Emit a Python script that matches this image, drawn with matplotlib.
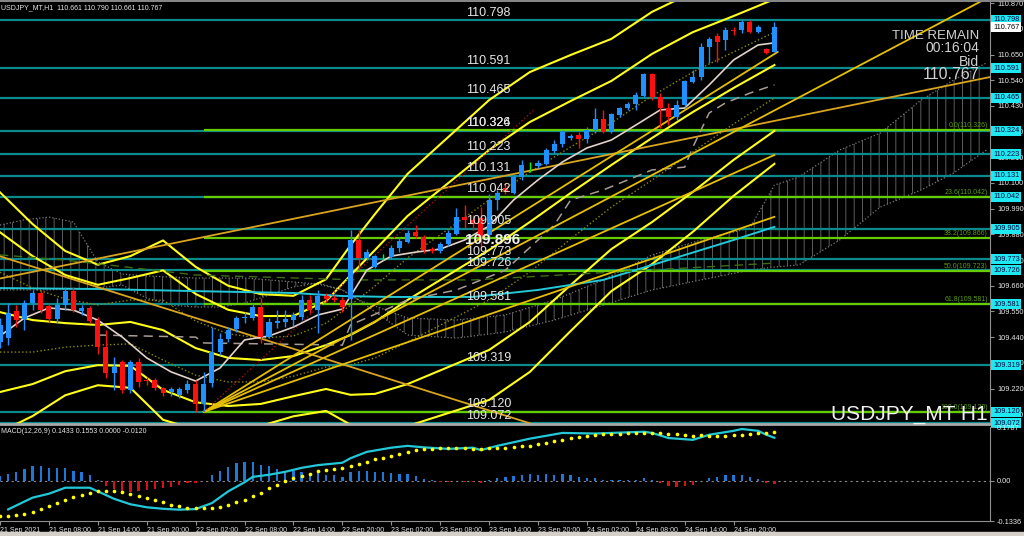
import numpy as np
import matplotlib
matplotlib.use("Agg")
import matplotlib.pyplot as plt
import matplotlib.transforms as mtransforms
from matplotlib.patches import Rectangle
from matplotlib.lines import Line2D

plt.rcParams['font.family'] = ['Liberation Sans', 'DejaVu Sans']
plt.rcParams['hatch.linewidth'] = 0.7
plt.rcParams['hatch.color'] = '#5c5c5c'

# ---- USDJPY H1 candles (bar 0 = 21 Sep 02:00) ----
opens = [109.419, 109.436, 109.552, 109.518, 109.586, 109.629, 109.573, 109.518, 109.577, 109.637,
         109.552, 109.565, 109.513, 109.398, 109.286, 109.333, 109.213, 109.333, 109.256, 109.256,
         109.222, 109.205, 109.192, 109.213, 109.239, 109.154, 109.243, 109.376, 109.432, 109.475,
         109.522, 109.522, 109.569, 109.440, 109.500, 109.505, 109.513, 109.526, 109.599, 109.556,
         109.616, 109.607, 109.599, 109.603, 109.856, 109.779, 109.740, 109.783, 109.783, 109.822,
         109.847, 109.890, 109.869, 109.817, 109.809, 109.839, 109.882, 109.954, 109.942, 109.950,
         109.877, 110.027, 110.078, 110.057, 110.126, 110.177, 110.173, 110.181, 110.237, 110.267,
         110.293, 110.305, 110.288, 110.327, 110.374, 110.318, 110.391, 110.421, 110.438, 110.473,
         110.567, 110.468, 110.421, 110.383, 110.434, 110.533, 110.554, 110.682, 110.729, 110.712,
         110.755, 110.755, 110.789, 110.747, 110.674, 110.661]
highs = [109.522, 109.586, 109.577, 109.599, 109.642, 109.642, 109.586, 109.607, 109.655, 109.655,
         109.577, 109.573, 109.526, 109.470, 109.355, 109.342, 109.342, 109.351, 109.269, 109.265,
         109.226, 109.226, 109.226, 109.256, 109.256, 109.291, 109.483, 109.457, 109.483, 109.531,
         109.548, 109.586, 109.607, 109.522, 109.556, 109.556, 109.548, 109.620, 109.620, 109.642,
         109.629, 109.620, 109.612, 109.899, 109.899, 109.817, 109.792, 109.796, 109.834, 109.869,
         109.899, 109.920, 109.877, 109.826, 109.847, 109.899, 109.993, 110.006, 109.963, 109.997,
         110.053, 110.070, 110.100, 110.134, 110.198, 110.190, 110.198, 110.250, 110.284, 110.326,
         110.310, 110.318, 110.340, 110.421, 110.413, 110.400, 110.425, 110.447, 110.490, 110.571,
         110.571, 110.485, 110.443, 110.455, 110.541, 110.584, 110.700, 110.725, 110.742, 110.768,
         110.768, 110.798, 110.798, 110.777, 110.678, 110.790]
lows = [109.393, 109.406, 109.483, 109.470, 109.556, 109.543, 109.505, 109.500, 109.556, 109.548,
        109.535, 109.500, 109.368, 109.265, 109.213, 109.201, 109.201, 109.226, 109.235, 109.213,
        109.188, 109.188, 109.180, 109.201, 109.120, 109.125, 109.226, 109.363, 109.419, 109.462,
        109.500, 109.513, 109.415, 109.436, 109.479, 109.483, 109.487, 109.513, 109.543, 109.457,
        109.590, 109.590, 109.548, 109.428, 109.727, 109.770, 109.736, 109.770, 109.774, 109.804,
        109.843, 109.864, 109.800, 109.800, 109.800, 109.830, 109.877, 109.907, 109.899, 109.826,
        109.856, 109.984, 110.053, 110.053, 110.113, 110.147, 110.164, 110.177, 110.228, 110.254,
        110.284, 110.250, 110.271, 110.314, 110.314, 110.314, 110.383, 110.413, 110.413, 110.468,
        110.455, 110.336, 110.348, 110.370, 110.425, 110.528, 110.541, 110.614, 110.618, 110.670,
        110.734, 110.742, 110.742, 110.742, 110.652, 110.661]
closes = [109.492, 109.543, 109.513, 109.586, 109.629, 109.556, 109.518, 109.577, 109.637, 109.556,
          109.565, 109.509, 109.398, 109.286, 109.312, 109.213, 109.333, 109.248, 109.252, 109.222,
          109.201, 109.218, 109.218, 109.239, 109.154, 109.239, 109.376, 109.432, 109.470, 109.522,
          109.526, 109.569, 109.440, 109.505, 109.509, 109.518, 109.535, 109.599, 109.556, 109.616,
          109.603, 109.599, 109.569, 109.856, 109.779, 109.804, 109.787, 109.783, 109.822, 109.852,
          109.886, 109.873, 109.813, 109.809, 109.839, 109.886, 109.954, 109.942, 109.924, 109.869,
          110.027, 110.057, 110.062, 110.126, 110.177, 110.177, 110.186, 110.241, 110.267, 110.320,
          110.301, 110.288, 110.327, 110.374, 110.318, 110.395, 110.421, 110.438, 110.477, 110.567,
          110.468, 110.421, 110.383, 110.434, 110.537, 110.554, 110.682, 110.717, 110.704, 110.755,
          110.751, 110.789, 110.747, 110.768, 110.657, 110.767]

time_tick_bars = [0, 6, 12, 18, 24, 30, 36, 42, 48, 54, 60, 66, 72, 78, 84, 90]
time_tick_labels = ["21 Sep 2021", "21 Sep 08:00", "21 Sep 14:00", "21 Sep 20:00",
                    "22 Sep 02:00", "22 Sep 08:00", "22 Sep 14:00", "22 Sep 20:00",
                    "23 Sep 02:00", "23 Sep 08:00", "23 Sep 14:00", "23 Sep 20:00",
                    "24 Sep 02:00", "24 Sep 08:00", "24 Sep 14:00", "24 Sep 20:00"]

# ---- indicators ----
ma_bars = [0, 3, 6, 9, 12, 15, 18, 21, 24, 27, 30, 33, 36, 39, 42, 45, 48, 51, 54, 57, 60,
           63, 66, 69, 72, 75, 78, 81, 84, 87, 90, 93, 95]
ma_fast = [109.445, 109.522, 109.565, 109.556, 109.513, 109.440, 109.351, 109.291, 109.252,
           109.308, 109.428, 109.445, 109.483, 109.535, 109.560, 109.727, 109.787, 109.804,
           109.817, 109.856, 109.916, 110.027, 110.113, 110.190, 110.250, 110.284, 110.348,
           110.413, 110.421, 110.520, 110.627, 110.691, 110.700]

bb_bars = [0, 4, 8, 12, 16, 20, 24, 28, 32, 36, 40, 43, 46, 50, 55, 60, 65, 70, 75, 80, 85, 90, 95]
bb_mid = [109.547, 109.513, 109.500, 109.492, 109.505, 109.470, 109.393, 109.351, 109.342,
          109.359, 109.406, 109.449, 109.505, 109.599, 109.706, 109.813, 109.933, 110.057,
          110.177, 110.293, 110.404, 110.507, 110.605]
bb_sd = [0.171, 0.137, 0.103, 0.086, 0.094, 0.128, 0.116, 0.103, 0.094, 0.086, 0.094, 0.128,
         0.154, 0.180, 0.197, 0.214, 0.214, 0.197, 0.180, 0.180, 0.171, 0.154, 0.141]

slow_bars = [0, 12, 24, 36, 42, 48, 58, 66, 74, 82, 90, 95]
ma_slow = [109.650, 109.646, 109.637, 109.629, 109.616, 109.612, 109.612, 109.642, 109.685,
           109.770, 109.856, 109.912]

kijun_bars = [12, 24, 25, 42, 43, 50, 56, 62, 68, 70, 74, 80, 84, 85, 87, 89, 92, 95]
kijun = [109.449, 109.440, 109.415, 109.406, 109.492, 109.599, 109.642, 109.727, 109.920,
         110.027, 110.070, 110.156, 110.168, 110.254, 110.400, 110.443, 110.485, 110.520]

green_bars = [0, 8, 24, 44, 58, 95]
green_ma = [109.792, 109.770, 109.706, 109.685, 109.685, 109.757]

cloud_bars = [0, 3, 6, 9, 12, 15, 18, 21, 24, 27, 30, 33, 36, 39, 42, 44, 50, 56, 62, 68,
              74, 80, 86, 92, 95, 98, 103, 108, 113, 117, 121]
span_a = [109.920, 109.942, 109.954, 109.933, 109.762, 109.710, 109.702, 109.697, 109.693,
          109.693, 109.693, 109.685, 109.676, 109.667, 109.642, 109.599, 109.522, 109.513,
          109.535, 109.599, 109.685, 109.792, 109.856, 109.907, 110.091, 110.126, 110.241,
          110.314, 110.455, 110.541, 110.614]
span_b = [109.642, 109.642, 109.642, 109.646, 109.650, 109.663, 109.607, 109.577, 109.569,
          109.569, 109.586, 109.620, 109.655, 109.672, 109.642, 109.599, 109.449, 109.436,
          109.462, 109.513, 109.577, 109.642, 109.685, 109.727, 109.740, 109.749, 109.856,
          109.997, 110.070, 110.143, 110.241]

# trend lines (bar, price) -> (bar, price)
trend_x0 = [0, 0, 25, 25, 25, 25]
trend_y0 = [109.786, 109.691, 109.120, 109.120, 109.120, 109.120]
trend_x1 = [70, 121.5, 121, 95.4, 95, 95]
trend_y1 = [109.016, 110.554, 110.890, 110.661, 110.220, 109.955]
trend_col = ['#d9a520', '#d9a520', '#e6c000', '#e6c000', '#e6c000', '#e6c000']
red_x = [25, 65.5]
red_y = [109.120, 110.413]

levels = [110.798, 110.591, 110.465, 110.324, 110.223, 110.131, 110.042,
          109.905, 109.773, 109.726, 109.581, 109.319, 109.120, 109.072]
fib_pct = ['0.0', '23.6', '38.2', '50.0', '61.8', '100.0']
fib_vals = [110.326, 110.042, 109.866, 109.723, 109.581, 109.120]
fib_start = 25
axis_ticks = [110.870, 110.760, 110.650, 110.540, 110.430, 110.320, 110.210, 110.100, 109.990,
              109.880, 109.770, 109.660, 109.550, 109.440, 109.330, 109.220, 109.110]
last_price = 110.767

# ---- MACD(12,26,9) ----
macd_bars = [1, 4, 6, 8, 11, 12, 14, 16, 18, 20, 22, 24, 26, 28, 30, 31, 33, 35, 37, 39, 42,
             43, 45, 48, 50, 52, 55, 58, 59, 61, 65, 69, 73, 79, 80, 82, 85, 87, 90, 91, 93, 94, 95]
macd_main = [-0.095, -0.056, -0.043, -0.023, -0.023, -0.035, -0.060, -0.078, -0.088, -0.093,
             -0.096, -0.094, -0.074, -0.035, -0.005, 0.013, 0.020, 0.030, 0.043, 0.052, 0.060,
             0.075, 0.096, 0.110, 0.116, 0.111, 0.106, 0.110, 0.102, 0.116, 0.140, 0.159, 0.157,
             0.163, 0.159, 0.142, 0.136, 0.153, 0.166, 0.172, 0.166, 0.153, 0.143]
macd_signal = [-0.118, -0.116, -0.113, -0.110, -0.103, -0.095, -0.085, -0.074, -0.065, -0.055,
               -0.047, -0.039, -0.033, -0.033, -0.033, -0.038, -0.043, -0.049, -0.058, -0.064,
               -0.071, -0.080, -0.085, -0.089, -0.091, -0.092, -0.091, -0.088, -0.081, -0.072,
               -0.063, -0.052, -0.039, -0.025, -0.013, -0.002, 0.008, 0.017, 0.023, 0.031,
               0.037, 0.040, 0.044, 0.050, 0.056, 0.063, 0.071, 0.077, 0.083, 0.089,
               0.095, 0.102, 0.105, 0.107, 0.109, 0.109, 0.109, 0.109, 0.107, 0.107,
               0.109, 0.109, 0.110, 0.111, 0.114, 0.117, 0.122, 0.126, 0.131, 0.136,
               0.141, 0.146, 0.150, 0.153, 0.155, 0.156, 0.157, 0.158, 0.158, 0.159,
               0.159, 0.159, 0.156, 0.154, 0.153, 0.150, 0.151, 0.148, 0.148, 0.148,
               0.151, 0.153, 0.156, 0.158, 0.160, 0.163]
macd_hist = [0.015, 0.022, 0.030, 0.039, 0.048, 0.048, 0.041, 0.041, 0.041, 0.033,
             0.028, 0.020, 0.002, -0.017, -0.028, -0.037, -0.037, -0.035, -0.031, -0.028,
             -0.025, -0.019, -0.013, -0.008, -0.006, -0.001, 0.020, 0.033, 0.046, 0.058,
             0.061, 0.063, 0.053, 0.048, 0.039, 0.033, 0.031, 0.028, 0.024, 0.025,
             0.020, 0.019, 0.011, 0.030, 0.031, 0.033, 0.030, 0.028, 0.025, 0.024,
             0.022, 0.017, 0.006, 0.001, -0.003, -0.004, -0.001, -0.003, -0.004, -0.008,
             0.002, 0.009, 0.012, 0.016, 0.019, 0.022, 0.020, 0.022, 0.020, 0.022,
             0.019, 0.013, 0.009, 0.009, 0.002, 0.001, 0.001, 0.002, 0.002, 0.009,
             0.004, -0.007, -0.017, -0.020, -0.017, -0.013, -0.002, 0.009, 0.013, 0.019,
             0.020, 0.019, 0.011, 0.007, -0.009, -0.012]
macd_min, macd_max = -0.1336, 0.1787

BULL = '#1e90ff'
BEAR = '#ff1010'
DOJI = '#00ff00'
TEAL = '#0a8a8c'
FIBG = '#66cc00'
YEL = '#ffff1a'
TXT = '#e6e6e6'
SMALL = 5.0

fig = plt.figure(figsize=(10.24, 5.36), dpi=100, facecolor='black')
ax = fig.add_axes([0, 1 - 424 / 536, 990 / 1024, 422 / 536], facecolor='black')
ax2 = fig.add_axes([0, 1 - 521 / 536, 990 / 1024, 94 / 536], facecolor='black', sharex=ax)
ax.set_xlim(0.27, 121.45)
ax.set_ylim(109.068, 110.875)
bt = mtransforms.blended_transform_factory(ax.transAxes, ax.transData)

# ichimoku cloud
ax.fill_between(cloud_bars, span_a, span_b, facecolor='none', edgecolor='#5c5c5c',
                hatch='||', linewidth=0, zorder=1)
ax.plot(cloud_bars, span_a, color='#7a7a7a', ls=':', lw=0.9, zorder=1)
ax.plot(cloud_bars, span_b, color='#7a7a7a', ls=':', lw=0.9, zorder=1)

# horizontal levels
for lv in levels:
    ax.axhline(lv, color=TEAL, lw=1.6, zorder=1.5)
for pct, fv in zip(fib_pct, fib_vals):
    ax.hlines(fv, fib_start, 121.45, color=FIBG, lw=1.6, zorder=1.6)
    ax.text(0.998, fv + 0.004, f"{pct}({fv:.3f})", transform=bt, ha='right', va='bottom',
            fontsize=SMALL, color='#5a9a10', zorder=6)

# indicators
mid = np.array(bb_mid)
sd = np.array(bb_sd)
for k in (2, 3):
    ax.plot(bb_bars, mid + k * sd, color=YEL, lw=1.5, zorder=2)
    ax.plot(bb_bars, mid - k * sd, color=YEL, lw=1.5, zorder=2)
ax.plot(bb_bars, mid + sd, color='#8a8a00', ls=':', lw=1.0, zorder=2)
ax.plot(bb_bars, mid - sd, color='#8a8a00', ls=':', lw=1.0, zorder=2)
ax.plot(bb_bars, mid, color=YEL, lw=1.5, zorder=2)
ax.plot(slow_bars, ma_slow, color='#22c8d8', lw=1.4, zorder=2)
ax.plot(green_bars, green_ma, color='#3c6e14', ls=(0, (6, 4)), lw=1.0, zorder=2)
ax.plot(kijun_bars, kijun, color='#a89c94', ls=(0, (6, 4)), lw=1.1, zorder=2)
ax.plot(ma_bars, ma_fast, color='#e2d2ca', lw=1.2, zorder=3.5)

# trend lines
for x0, y0, x1, y1, col in zip(trend_x0, trend_y0, trend_x1, trend_y1, trend_col):
    ax.plot([x0, x1], [y0, y1], color=col, lw=1.3, zorder=2.5)
ax.plot(red_x, red_y, color='#a01010', ls=':', lw=1.0, zorder=2.5)

# candles
o = np.array(opens)
c = np.array(closes)
x = np.arange(len(c))
cols = np.where(c > o, BULL, np.where(c < o, BEAR, DOJI))
ax.vlines(x, lows, highs, colors=cols, lw=1.0, zorder=4)
body = np.maximum(np.abs(c - o), 0.002)
ax.bar(x, body, bottom=np.minimum(o, c), width=0.62, color=cols, linewidth=0, zorder=5)

# level labels in the middle
for lv in levels:
    ax.text(57.2, lv + 0.006, f"{lv:.3f}", fontsize=9, color=TXT, va='bottom', ha='left', zorder=6)
ax.text(57.2, fib_vals[0] + 0.006, f"{fib_vals[0]:.3f}", fontsize=9, color=TXT,
        va='bottom', ha='left', zorder=6)
ax.text(57.0, fib_vals[2] - 0.010, "109.896", fontsize=11, fontweight='bold', color='#f0f0f0',
        va='center', ha='left', zorder=6)

# right price axis
ax.yaxis.tick_right()
ax.set_yticks(axis_ticks)
ax.set_yticklabels([f"{t:.3f}" for t in axis_ticks])
ax.tick_params(axis='y', labelsize=SMALL + 0.3, labelcolor=TXT, color='#909090', length=3, pad=2)
ax.tick_params(axis='x', bottom=False, labelbottom=False)
for s in ('left', 'top'):
    ax.spines[s].set_visible(False)
ax.spines['right'].set_color('#909090')
ax.spines['bottom'].set_color('#a8a8a8')
ax.spines['bottom'].set_linewidth(2)

for lv in levels:
    ax.text(1.003, lv, f"{lv:.3f}", transform=bt, fontsize=SMALL + 0.3, color='#0a0a40',
            ha='left', va='center', clip_on=False, zorder=8,
            bbox=dict(boxstyle='square,pad=0.2', fc='#1ee8f2', ec='none'))
ax.text(1.003, last_price, f"{last_price:.3f}", transform=bt, fontsize=SMALL + 0.3, color='black',
        ha='left', va='center', clip_on=False, zorder=8,
        bbox=dict(boxstyle='square,pad=0.2', fc='white', ec='none'))

# texts
ax.text(0.001, 0.995, "USDJPY_MT,H1  110.661 110.790 110.661 110.767", transform=ax.transAxes,
        fontsize=SMALL, color=TXT, va='top', ha='left')
ax.text(0.989, 110.728, "TIME REMAIN", fontsize=9.5, color='#d0d0d0', ha='right', va='center',
        transform=bt)
ax.text(0.989, 110.677, "00:16:04", fontsize=10, color='#d0d0d0', ha='right', va='center',
        transform=bt)
ax.text(0.989, 110.617, "Bid", fontsize=10, color='#d0d0d0', ha='right', va='center', transform=bt)
ax.text(0.989, 110.566, "110.767", fontsize=11.5, color='#d0d0d0', ha='right', va='center',
        transform=bt)
ax.text(0.998, 109.088, "USDJPY_MT H1", fontsize=15, color='#f2f2f2', ha='right', va='baseline',
        transform=bt, zorder=7)

# MACD panel
ax2.set_ylim(macd_min, macd_max)
hist = np.array(macd_hist)
ax2.bar(np.arange(len(hist)), hist, width=0.28,
        color=np.where(hist >= 0, '#1f78d6', '#d41414'), linewidth=0, zorder=2)
ax2.axhline(0, color='#8a8a8a', ls=(0, (2, 3)), lw=0.8, zorder=1)
ax2.plot(macd_bars, macd_main, color='#22c8d8', lw=1.6, zorder=3)
ax2.scatter(np.arange(len(macd_signal)), macd_signal, s=7, color='#ffff00', zorder=4,
            linewidths=0)
ax2.yaxis.tick_right()
ax2.set_yticks([macd_max, 0.0, macd_min])
ax2.set_yticklabels(["0.1787", "0.00", "-0.1336"])
ax2.tick_params(axis='y', labelsize=SMALL + 0.3, labelcolor=TXT, color='#909090', length=3, pad=2)
ax2.set_xticks(time_tick_bars)
ax2.set_xticklabels(time_tick_labels, ha='left')
ax2.tick_params(axis='x', labelsize=SMALL, labelcolor=TXT, color='#909090', length=3, pad=1)
for s in ('left', 'top'):
    ax2.spines[s].set_visible(False)
for s in ('right', 'bottom'):
    ax2.spines[s].set_color('#909090')
ax2.text(0.001, 0.985, "MACD(12,26,9) 0.1433 0.1553 0.0000 -0.0120", transform=ax2.transAxes,
         fontsize=SMALL, color=TXT, va='top', ha='left')

fig.add_artist(Line2D([0, 1], [0.999, 0.999], color='#a0a0a0', lw=1.2))
fig.add_artist(Rectangle((0, 0), 1, 4 / 536, transform=fig.transFigure, color='#d4d0c8'))

fig.savefig('out.png', dpi=100, facecolor='black')
